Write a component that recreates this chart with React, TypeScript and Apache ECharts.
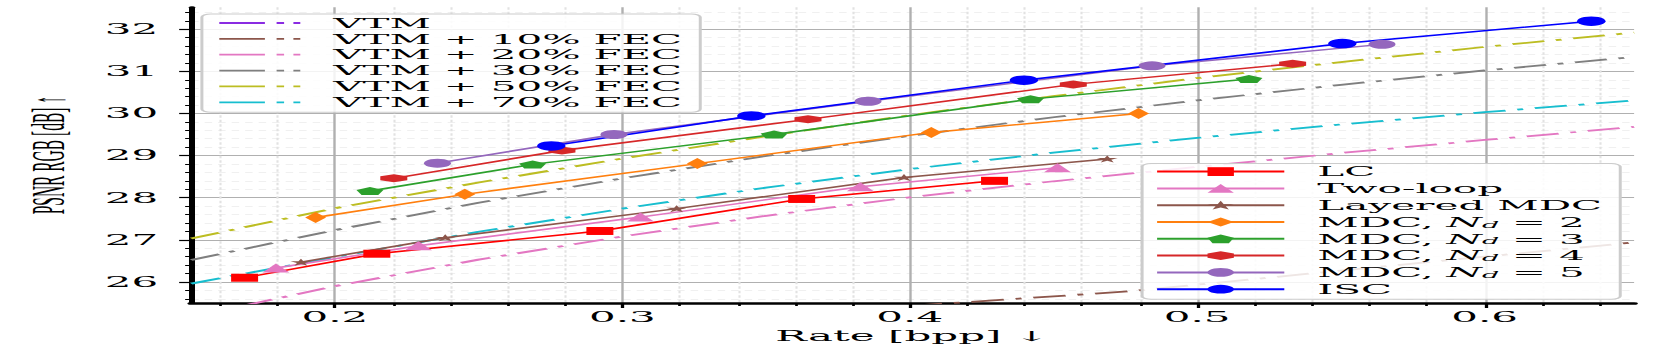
import React, { useEffect, useRef } from "react";
import * as echarts from "echarts";

// The reference figure is a plot stretched horizontally; we draw it narrow and stretch it.
const STRETCH = 3;
const PAGE_W = 1662;
const PAGE_H = 349;
const CHART_W = PAGE_W / STRETCH;

const X_MIN = 0.15;
const X_MAX = 0.652;
const Y_MIN = 25.5;
const Y_MAX = 32.52;

const xMajorTicks = [0.2, 0.3, 0.4, 0.5, 0.6];
const xMinorTicks = [0.16, 0.18, 0.22, 0.24, 0.26, 0.28, 0.32, 0.34, 0.36, 0.38, 0.42, 0.44, 0.46, 0.48, 0.52, 0.54, 0.56, 0.58, 0.62, 0.64];
const yMajorTicks = [26, 27, 28, 29, 30, 31, 32];
const yMinorTicks = [25.6, 25.8, 26.2, 26.4, 26.6, 26.8, 27.2, 27.4, 27.6, 27.8, 28.2, 28.4, 28.6, 28.8, 29.2, 29.4, 29.6, 29.8, 30.2, 30.4, 30.6, 30.8, 31.2, 31.4, 31.6, 31.8, 32.2, 32.4];

// VTM reference curves (dash-dot)
const vtm: number[][] = [];
const vtmFec10 = [[0.4, 25.43], [0.415, 25.5], [0.477, 25.78], [0.55, 26.27], [0.6, 26.6], [0.652, 26.94]];
const vtmFec20 = [[0.15, 25.17], [0.2, 25.9], [0.25, 26.53], [0.3, 27.08], [0.35, 27.57], [0.4, 28.01], [0.45, 28.39], [0.5, 28.73], [0.55, 29.06], [0.6, 29.37], [0.652, 29.68]];
const vtmFec30 = [[0.15, 26.52], [0.2, 27.23], [0.25, 27.88], [0.3, 28.46], [0.35, 28.99], [0.4, 29.47], [0.45, 29.91], [0.5, 30.31], [0.55, 30.68], [0.6, 31.02], [0.652, 31.34]];
const vtmFec50 = [[0.15, 27.03], [0.2, 27.75], [0.25, 28.36], [0.3, 28.93], [0.35, 29.46], [0.4, 29.96], [0.45, 30.41], [0.5, 30.84], [0.55, 31.22], [0.6, 31.58], [0.652, 31.92]];
const vtmFec70 = [[0.15, 25.96], [0.2, 26.59], [0.25, 27.19], [0.3, 27.74], [0.35, 28.24], [0.4, 28.68], [0.45, 29.07], [0.5, 29.42], [0.55, 29.74], [0.6, 30.03], [0.652, 30.31]];

// Methods (solid lines with markers)
const lc = [[0.1686, 26.1], [0.2146, 26.67], [0.2922, 27.21], [0.3624, 27.97], [0.4295, 28.4]];
const twoLoop = [[0.1795, 26.33], [0.2291, 26.86], [0.3063, 27.54], [0.3828, 28.26], [0.4514, 28.71]];
const layeredMdc = [[0.1882, 26.47], [0.2384, 27.05], [0.3189, 27.74], [0.398, 28.48], [0.4687, 28.92]];
const mdc2 = [[0.1933, 27.53], [0.2452, 28.08], [0.3261, 28.81], [0.4075, 29.55], [0.4796, 30.0]];
const mdc3 = [[0.2122, 28.16], [0.2688, 28.79], [0.3528, 29.5], [0.442, 30.34], [0.518, 30.82]];
const mdc4 = [[0.2205, 28.46], [0.279, 29.12], [0.3646, 29.86], [0.4569, 30.69], [0.5332, 31.18]];
const mdc5 = [[0.2357, 28.82], [0.2971, 29.5], [0.3855, 30.29], [0.4843, 31.13], [0.5643, 31.64]];
const isc = [[0.2753, 29.23], [0.3449, 29.94], [0.4397, 30.79], [0.5505, 31.66], [0.6371, 32.19]];

const SERIF = "DejaVu Serif";

const STAR = "path://M0,-1L0.2245,-0.309L0.951,-0.309L0.363,0.118L0.588,0.809L0,0.382L-0.588,0.809L-0.363,0.118L-0.951,-0.309L-0.2245,-0.309Z";
const PENTAGON = "path://M0,-1L0.951,-0.309L0.588,0.809L-0.588,0.809L-0.951,-0.309Z";
const HEXAGON = "path://M0,-1L0.866,-0.5L0.866,0.5L0,1L-0.866,0.5L-0.866,-0.5Z";
const VTM_ICON = "path://M0,0H15.2V1.8H0ZM19.1,0H21.6V1.8H19.1ZM24.7,0H27V1.8H24.7Z";

const DASH_DOT = [11, 4, 2, 4];

function fecSeries(name: string, color: string, data: number[][]) {
  return {
    type: "line",
    name,
    data,
    xAxisIndex: 0,
    yAxisIndex: 0,
    showSymbol: false,
    symbol: "none",
    smooth: false,
    color,
    itemStyle: { color },
    lineStyle: { color, width: 1.8, type: DASH_DOT },
    z: 2,
  };
}

function methodSeries(name: string, color: string, data: number[][], symbol: string, size: any) {
  return {
    type: "line",
    name,
    data,
    xAxisIndex: 0,
    yAxisIndex: 0,
    symbol,
    symbolSize: size,
    showSymbol: true,
    color,
    itemStyle: { color },
    lineStyle: { color, width: 1.5 },
    z: 3,
  };
}

const fecNames = ["VTM", "VTM + 10% FEC", "VTM + 20% FEC", "VTM + 30% FEC", "VTM + 50% FEC", "VTM + 70% FEC"];
const methodNames = ["LC", "Two-loop", "Layered MDC", "MDC, N_d = 2", "MDC, N_d = 3", "MDC, N_d = 4", "MDC, N_d = 5", "ISC"];

const legendRich = {
  i: { fontFamily: SERIF, fontStyle: "italic", fontSize: 13.5, color: "#000" },
  s: { fontFamily: SERIF, fontStyle: "italic", fontSize: 9, color: "#000", padding: [5, 0, 0, 0] },
};

const legendBox = {
  backgroundColor: "rgba(255,255,255,0.85)",
  borderColor: "#cccccc",
  borderWidth: 1,
  borderRadius: 3,
  orient: "vertical",
  selectedMode: false,
  align: "left",
};

const option: any = {
  animation: false,
  backgroundColor: "#ffffff",
  grid: { left: 60.9, right: CHART_W - 544.7, top: 7.3, bottom: 46, containLabel: false },
  xAxis: [
    {
      type: "value",
      min: X_MIN,
      max: X_MAX,
      position: "bottom",
      axisLine: { show: true, onZero: false, lineStyle: { color: "#000", width: 2.5 } },
      axisTick: { show: true, customValues: xMajorTicks, length: 5, lineStyle: { color: "#000", width: 1.1 } },
      axisLabel: {
        show: true,
        customValues: xMajorTicks,
        formatter: (v: number) => v.toFixed(1),
        margin: 7,
        color: "#000",
        fontFamily: SERIF,
        fontSize: 14,
      },
      splitLine: { show: true, lineStyle: { color: "#b0b0b0", width: 0.8 } },
      name: "Rate [bpp] ↓",
      nameLocation: "middle",
      nameGap: 23,
      nameTextStyle: { fontFamily: SERIF, fontSize: 14, color: "#000" },
    },
    {
      type: "value",
      min: X_MIN,
      max: X_MAX,
      position: "bottom",
      axisLine: { show: false },
      axisTick: { show: true, customValues: xMinorTicks, length: 3, lineStyle: { color: "#000", width: 0.9 } },
      axisLabel: { show: false, customValues: xMinorTicks },
      splitLine: { show: true, lineStyle: { color: "#e2e2e2", width: 0.7, type: [2.5, 2] } },
    },
  ],
  yAxis: [
    {
      type: "value",
      min: Y_MIN,
      max: Y_MAX,
      position: "left",
      axisLine: { show: true, onZero: false, lineStyle: { color: "#000", width: 2 } },
      axisTick: { show: true, customValues: yMajorTicks, length: 4, lineStyle: { color: "#000", width: 1.2 } },
      axisLabel: {
        show: true,
        customValues: yMajorTicks,
        formatter: (v: number) => String(Math.round(v)),
        margin: 11,
        color: "#000",
        fontFamily: SERIF,
        fontSize: 14,
      },
      splitLine: { show: true, lineStyle: { color: "#b0b0b0", width: 0.8 } },
      name: "PSNR RGB [dB] ↑",
      nameLocation: "middle",
      nameRotate: 90,
      nameGap: 37,
      nameTextStyle: { fontFamily: "Liberation Serif", fontSize: 15.5, color: "#000" },
    },
    {
      type: "value",
      min: Y_MIN,
      max: Y_MAX,
      position: "left",
      axisLine: { show: false },
      axisTick: { show: true, customValues: yMinorTicks, length: 2, lineStyle: { color: "#000", width: 1 } },
      axisLabel: { show: false, customValues: yMinorTicks },
      splitLine: { show: true, lineStyle: { color: "#e2e2e2", width: 0.7, type: [2.5, 2] } },
    },
  ],
  legend: [
    {
      ...legendBox,
      data: fecNames.map((n) => ({ name: n, icon: VTM_ICON })),
      left: 67.3,
      top: 14,
      padding: [2, 6, 3, 5.8],
      itemWidth: 27,
      itemHeight: 10,
      itemGap: 1.86,
      symbolKeepAspect: true,
      textStyle: { fontFamily: SERIF, fontSize: 13.5, color: "#000", lineHeight: 14, padding: [0, 0, 0, 6] },
    },
    {
      ...legendBox,
      data: methodNames,
      left: 380.7,
      top: 163.6,
      padding: [1, 6, 3, 4],
      itemWidth: 42.4,
      itemHeight: 11,
      itemGap: 2.8,
      formatter: (name: string) => name.replace("N_d", "{i|N}{s|d}"),
      textStyle: { fontFamily: SERIF, fontSize: 13.5, color: "#000", lineHeight: 14, padding: [0, 0, 0, 6], rich: legendRich },
    },
  ],
  series: [
    fecSeries("VTM", "#8a2be2", vtm),
    fecSeries("VTM + 10% FEC", "#8c564b", vtmFec10),
    fecSeries("VTM + 20% FEC", "#e377c2", vtmFec20),
    fecSeries("VTM + 30% FEC", "#7f7f7f", vtmFec30),
    fecSeries("VTM + 50% FEC", "#bcbd22", vtmFec50),
    fecSeries("VTM + 70% FEC", "#17becf", vtmFec70),
    methodSeries("LC", "#ff0000", lc, "rect", [9, 8]),
    methodSeries("Two-loop", "#e377c2", twoLoop, "triangle", [9, 9]),
    methodSeries("Layered MDC", "#8c564b", layeredMdc, STAR, [7, 7]),
    methodSeries("MDC, N_d = 2", "#ff7f0e", mdc2, "diamond", [7, 11]),
    methodSeries("MDC, N_d = 3", "#2ca02c", mdc3, PENTAGON, [9, 8]),
    methodSeries("MDC, N_d = 4", "#d62728", mdc4, HEXAGON, [9, 8]),
    methodSeries("MDC, N_d = 5", "#9467bd", mdc5, "circle", 9),
    methodSeries("ISC", "#0000ff", isc, "circle", 9.5),
  ],
};

export default function App() {
  const ref = useRef<HTMLDivElement>(null);
  useEffect(() => {
    if (!ref.current) return;
    const chart = echarts.init(ref.current, null, { renderer: "svg" });
    chart.setOption(option);
    return () => chart.dispose();
  }, []);
  return (
    <div style={{ position: "fixed", left: 0, top: 0, width: PAGE_W, height: PAGE_H, overflow: "hidden", background: "#fff" }}>
      <div
        ref={ref}
        style={{ width: CHART_W, height: PAGE_H, transform: `scaleX(${STRETCH})`, transformOrigin: "0 0" }}
      />
    </div>
  );
}
